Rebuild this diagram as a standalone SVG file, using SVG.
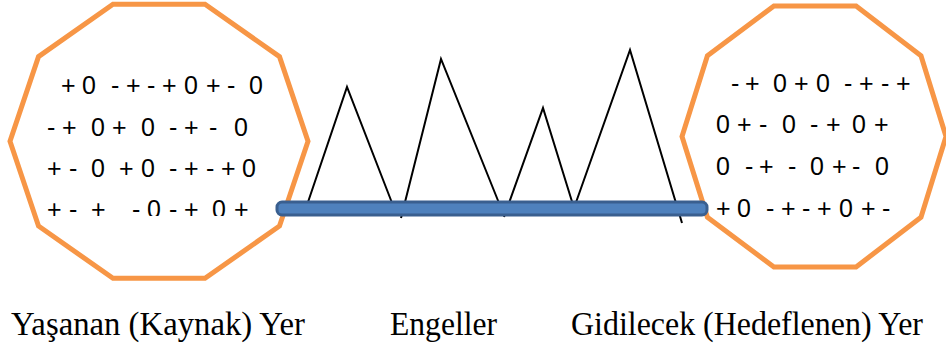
<svg xmlns="http://www.w3.org/2000/svg" width="946" height="347" viewBox="0 0 946 347">
<style>
.deca{fill:#fff;stroke:#F79646;stroke-width:5;stroke-linejoin:miter}
.sym{font-family:"Liberation Sans",Arial,sans-serif;font-size:25px;fill:#000;white-space:pre}
.peak{fill:none;stroke:#000;stroke-width:2;stroke-linejoin:miter}
.lbl{font-family:"Times New Roman","Liberation Serif",Times,serif;font-size:33px;fill:#000}
</style>
<defs>
<clipPath id="clipL"><rect x="0" y="0" width="300" height="216"/></clipPath>
</defs>
<g id="source">
<polygon class="deca" points="308,141.3 279.5,56.6 205,4.3 113,4.3 38.5,56.6 10,141.3 38.5,226 113,278.3 205,278.3 279.5,226"/>
<g clip-path="url(#clipL)">
<text class="sym" xml:space="preserve" y="94.3" x="61 82 100 111 126 147 162 184 206 227 240 249">+0 -+-+0+- 0</text>
<text class="sym" xml:space="preserve" y="136" x="47 62 80 91 112 130 141 160 169 184 200 209 222 234">-+ 0+ 0 -+ - 0</text>
<text class="sym" xml:space="preserve" y="176.7" x="47 69 80 91 110 119 141 160 169 184 206 221 242">+- 0 +0 -+-+0</text>
<text class="sym" xml:space="preserve" y="218" x="47 69 80 91 105 120 132 147 169 184 200 212 234">+- +  -0-+ 0+</text>
</g>
</g>
<g id="target">
<polygon class="deca" points="946,136.5 921,55.8 856.1,6 773.9,6 707.4,55.8 682,136.5 707.4,217.2 773.9,267 856.1,267 921,217.2"/>
<text class="sym" xml:space="preserve" y="91.7" x="731 745 762 773 794 816 832 844 859 881 896">-+ 0+0 -+-+</text>
<text class="sym" xml:space="preserve" y="133.3" x="716 737 759 770 782 800 810 826 840 852 874">0+- 0 -+ 0+</text>
<text class="sym" xml:space="preserve" y="175" x="716 733 745 759 777 788 800 810 832 852 865 875">0 -+ - 0+- 0</text>
<text class="sym" xml:space="preserve" y="216.7" x="716 737 755 766 781 802 817 839 861 882">+0 -+-+0+-</text>
</g>
<g id="obstacles">
<polyline class="peak" points="306,208 347,87 394,208"/>
<polyline class="peak" points="401,218 441,59 501,208"/>
<polyline class="peak" points="504,217 543,108 574,208"/>
<polyline class="peak" points="574,208 630,50 682,223"/>
</g>
<g id="connectors">
<rect id="bar" x="277" y="202" width="430" height="13" rx="5" ry="5" fill="#4F81BD" stroke="#3A5F8F" stroke-width="3"/>
</g>
<g id="labels">
<text class="lbl" x="11" y="335" textLength="294" lengthAdjust="spacingAndGlyphs">Yaşanan (Kaynak) Yer</text>
<text class="lbl" x="390" y="335" textLength="107" lengthAdjust="spacingAndGlyphs">Engeller</text>
<text class="lbl" x="571" y="335" textLength="352" lengthAdjust="spacingAndGlyphs">Gidilecek (Hedeflenen) Yer</text>
</g>
</svg>
